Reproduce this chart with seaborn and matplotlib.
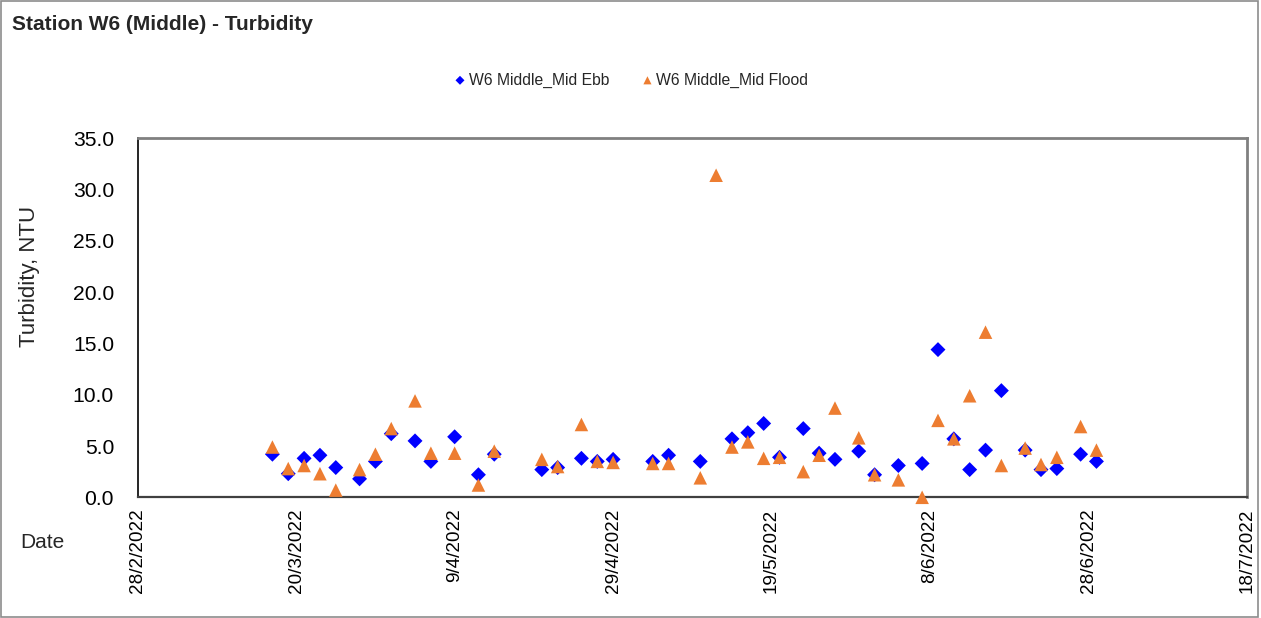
import numpy as np
import pandas as pd
import matplotlib
matplotlib.use("Agg")
import matplotlib.pyplot as plt
import matplotlib.dates as mdates
from matplotlib.patches import Rectangle
import seaborn as sns

# sampling dates (day/month, 2022)
dates = ["17/3", "19/3", "21/3", "23/3", "25/3", "28/3", "30/3",
         "1/4", "4/4", "6/4", "9/4", "12/4", "14/4", "20/4", "22/4", "25/4", "27/4", "29/4",
         "4/5", "6/5", "10/5", "12/5", "14/5", "16/5", "18/5", "20/5", "23/5", "25/5", "27/5", "30/5",
         "1/6", "4/6", "7/6", "9/6", "11/6", "13/6", "15/6", "17/6", "20/6", "22/6", "24/6", "27/6", "29/6"]

mid_ebb = [4.2, 2.3, 3.8, 4.1, 2.9, 1.8, 3.5,
           6.2, 5.5, 3.5, 5.9, 2.2, 4.2, 2.7, 2.9, 3.8, 3.5, 3.7,
           3.5, 4.1, 3.5, np.nan, 5.7, 6.3, 7.2, 3.9, 6.7, 4.3, 3.7, 4.5,
           2.2, 3.1, 3.3, 14.4, 5.7, 2.7, 4.6, 10.4, 4.6, 2.7, 2.8, 4.2, 3.5]

mid_flood = [4.9, 2.8, 3.1, 2.3, 0.7, 2.7, 4.2,
             6.7, 9.4, 4.3, 4.3, 1.2, 4.5, 3.7, 3.0, 7.1, 3.5, 3.4,
             3.3, 3.3, 1.9, 31.4, 4.9, 5.4, 3.8, 3.9, 2.5, 4.1, 8.7, 5.8,
             2.2, 1.7, 0.0, 7.5, 5.7, 9.9, 16.1, 3.1, 4.8, 3.2, 3.9, 6.9, 4.6]

ebb_label = "W6 Middle_Mid Ebb"
flood_label = "W6 Middle_Mid Flood"

df = pd.DataFrame({
    "Date": pd.to_datetime([d + "/2022" for d in dates], format="%d/%m/%Y"),
    "Ebb": mid_ebb,
    "Flood": mid_flood,
})

sns.set_style("white")
plt.rcParams["font.family"] = ["Liberation Sans", "DejaVu Sans"]

fig = plt.figure(figsize=(12.61, 6.18), dpi=100)
ax = fig.add_axes([0.1092, 0.1953, 0.8797, 0.5809])

sns.scatterplot(data=df, x="Date", y="Ebb", marker="D", s=58, color="#0000FF",
                edgecolor="none", label=ebb_label, ax=ax, clip_on=False, zorder=3)
sns.scatterplot(data=df, x="Date", y="Flood", marker="^", s=95, color="#ED7D31",
                edgecolor="none", label=flood_label, ax=ax, clip_on=False, zorder=4)

ax.set_ylim(0, 35)
ax.set_yticks(np.arange(0, 36, 5))
ax.yaxis.set_major_formatter(plt.FuncFormatter(lambda v, p: f"{v:.1f}"))

start = pd.Timestamp("2022-02-28")
end = pd.Timestamp("2022-07-18")
ax.set_xlim(start, end)
ax.set_xticks(pd.date_range(start, end, freq="20D"))
ax.xaxis.set_major_formatter(plt.FuncFormatter(
    lambda v, p: f"{mdates.num2date(v).day}/{mdates.num2date(v).month}/{mdates.num2date(v).year}"))
plt.setp(ax.get_xticklabels(), rotation=90)

ax.tick_params(axis="both", direction="in", length=4, colors="black")
ax.tick_params(axis="x", pad=8, color="#808080", labelsize=13.6)
ax.tick_params(axis="y", pad=17, labelsize=15.2)

ax.set_xlabel("")
ax.set_ylabel("")
for side in ["top", "right"]:
    ax.spines[side].set_color("#808080")
    ax.spines[side].set_linewidth(2)
ax.spines["left"].set_color("black")
ax.spines["left"].set_linewidth(1.2)
ax.spines["bottom"].set_color("#404040")
ax.spines["bottom"].set_linewidth(1.6)

ax.legend(loc="center", bbox_to_anchor=(0.5, 1 - 80 / 618), bbox_transform=fig.transFigure,
          ncol=2, frameon=False, fontsize=11.3, markerscale=0.6, handletextpad=0.1,
          columnspacing=2.0, handlelength=0.9)

fig.text(12 / 1261, 1 - 24 / 618, "Station W6 (Middle) - Turbidity", fontsize=15,
         fontweight="bold", va="center", ha="left")
fig.text(30 / 1261, 1 - 276 / 618, "Turbidity, NTU", fontsize=16, rotation=90,
         va="center", ha="center")
fig.text(20 / 1261, 1 - 543 / 618, "Date", fontsize=15, va="center", ha="left")

fig.patches.append(Rectangle((0.001, 0.002), 0.997, 0.996, transform=fig.transFigure,
                             fill=False, edgecolor="#8c8c8c", linewidth=1.2))

fig.savefig("out.png", dpi=100)
